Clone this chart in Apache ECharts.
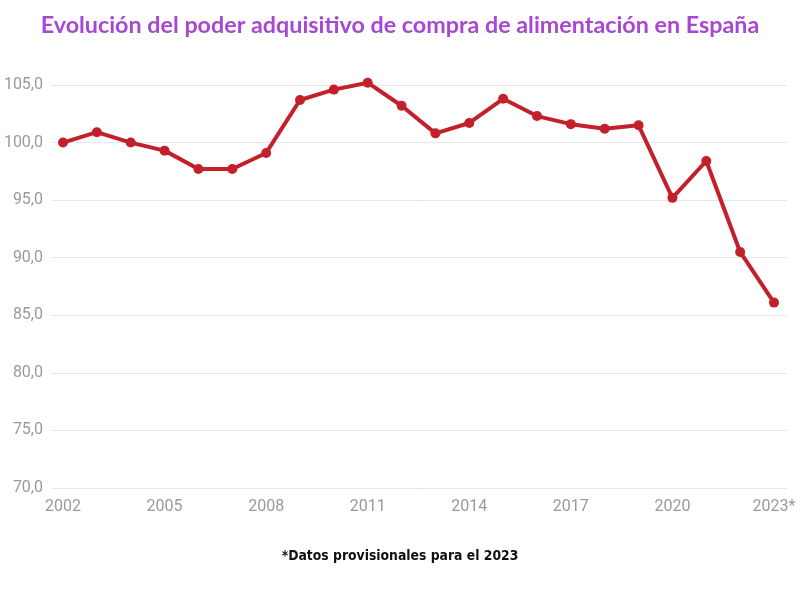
<!DOCTYPE html>
<html>
<head>
<meta charset="utf-8">
<script src="https://cdn.jsdelivr.net/npm/echarts@6/dist/echarts.min.js"></script>
<style>html,body{margin:0;padding:0;background:#fff}#c{width:800px;height:600px}</style>
</head>
<body>
<div id="c"></div>
<script>
var years = [2002,2003,2004,2005,2006,2007,2008,2009,2010,2011,2012,2013,2014,2015,2016,2017,2018,2019,2020,2021,2022,2023];
var values = [100.0,100.9,100.0,99.3,97.7,97.7,99.1,103.7,104.6,105.2,103.2,100.8,101.7,103.8,102.3,101.6,101.2,101.5,95.2,98.4,90.5,86.1];
var xTickYears = [2002,2005,2008,2011,2014,2017,2020,2023];
var yTicks = [70,75,80,85,90,95,100,105];
var titleText = 'Evolución del poder adquisitivo de compra de alimentación en España';
var noteText = '*Datos provisionales para el 2023';

var chart = echarts.init(document.getElementById('c'), null, {renderer:'canvas'});
var pts = years.map(function(y,i){return [y, values[i]];});
chart.setOption({
  backgroundColor:'#ffffff',
  animation:false,
  title:[{
    text:titleText, left:'center', top:9,
    textStyle:{color:'#a848d2', fontSize:23.3, fontWeight:'bold', fontFamily:'Lato'}
  },{
    text:noteText, left:'center', top:544,
    textStyle:{color:'#111111', fontSize:13.8, fontWeight:'bold', fontFamily:'DejaVu Sans Condensed'}
  }],
  grid:{left:52, right:13, top:85, bottom:112, containLabel:false},
  xAxis:{
    type:'value', min:2001.675, max:2023.384,
    axisLine:{show:false}, axisTick:{show:false}, splitLine:{show:false},
    axisLabel:{
      customValues:xTickYears, margin:11, color:'#9a9a9a', fontSize:16, fontFamily:'Roboto',
      formatter:function(v){return v===2023 ? '2023*' : String(v);}
    }
  },
  yAxis:{
    type:'value', min:70, max:105, interval:5,
    axisLine:{show:false}, axisTick:{show:false},
    splitLine:{lineStyle:{color:'#e6e6e6', width:1}},
    axisLabel:{
      margin:9, color:'#9a9a9a', fontSize:16, fontFamily:'Roboto',
      formatter:function(v){return v.toFixed(1).replace('.',',');}
    }
  },
  series:[{
    type:'line', data:pts, clip:false,
    symbol:'circle', symbolSize:10,
    lineStyle:{color:'#c4202b', width:4},
    itemStyle:{color:'#c4202b'}
  }]
});
</script>
</body>
</html>
